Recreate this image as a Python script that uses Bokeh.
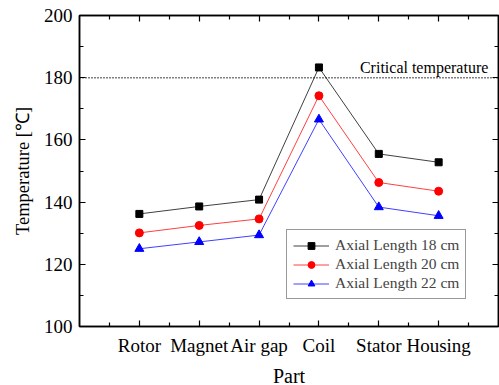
from bokeh.plotting import figure
from bokeh.models import FixedTicker, LinearAxis, Span, Label, Range1d, Legend
from bokeh.embed import file_html
from bokeh.resources import INLINE

parts = ["Rotor", "Magnet", "Air gap", "Coil", "Stator", "Housing"]
pos = [1, 2, 3, 4, 5, 6]
len18 = [136.2, 138.6, 140.8, 183.3, 155.5, 152.8]
len20 = [130.1, 132.5, 134.6, 174.2, 146.3, 143.5]
len22 = [125.0, 127.2, 129.4, 166.6, 138.4, 135.6]
critical = 180

FONT = "Liberation Serif"

p = figure(width=499, height=385, output_backend="svg", toolbar_location=None,
           x_range=Range1d(0, 7), y_range=Range1d(100, 200),
           frame_width=419, frame_height=311,
           min_border_left=79, min_border_right=1, min_border_top=15, min_border_bottom=0)
p.xgrid.visible = False
p.ygrid.visible = False
p.outline_line_color = "black"
p.outline_line_width = 1.5

def style_axis(ax, labels=True):
    ax.axis_line_color = "black"
    ax.axis_line_width = 1.5
    ax.major_tick_in = 6
    ax.major_tick_out = 0
    ax.minor_tick_in = 4
    ax.minor_tick_out = 0
    ax.major_tick_line_width = 1.2
    ax.minor_tick_line_width = 1.2
    ax.major_label_text_font = FONT
    ax.major_label_text_font_size = "19px"
    ax.major_label_text_color = "black"
    ax.axis_label_text_font = FONT
    ax.axis_label_text_font_size = "20px"
    ax.axis_label_text_font_style = "normal"
    ax.axis_label_text_color = "black"
    if not labels:
        ax.major_label_standoff = 0
        ax.major_label_overrides = {t: "" for t in ax.ticker.ticks}

xt = FixedTicker(ticks=pos, minor_ticks=[0.5 + i for i in range(7)])
yt = FixedTicker(ticks=[100, 120, 140, 160, 180, 200], minor_ticks=[110, 130, 150, 170, 190])

p.xaxis.ticker = xt
p.xaxis.major_label_overrides = {k: v for k, v in zip(pos, parts)}
p.xaxis.axis_label = "Part"
p.yaxis.ticker = yt
p.yaxis.axis_label = "Temperature [℃]"
style_axis(p.xaxis[0])
style_axis(p.yaxis[0])
p.yaxis.axis_label_text_font_size = "18.5px"
p.xaxis.major_label_standoff = 8
p.xaxis.axis_label_standoff = 6
p.yaxis.major_label_standoff = 7
p.yaxis.axis_label_standoff = 8

top = LinearAxis(ticker=xt)
style_axis(top, labels=False)
p.add_layout(top, "above")
right = LinearAxis(ticker=yt)
style_axis(right, labels=False)
p.add_layout(right, "right")

p.add_layout(Span(location=critical, dimension="width", line_color="black",
                  line_dash="1 2", line_width=1.5))
p.add_layout(Label(x=6.83, y=critical, text="Critical temperature", text_align="right",
                   text_baseline="bottom", y_offset=2, text_font=FONT, text_font_size="16px",
                   text_color="black"))

series = [(len18, "black", "square", "Axial Length 18 cm", 7),
          (len20, "red", "circle", "Axial Length 20 cm", 8),
          (len22, "blue", "triangle", "Axial Length 22 cm", 9)]
items = []
for vals, col, mk, lab, sz in series:
    r1 = p.line(pos, vals, line_color=col, line_width=1, line_alpha=0.75)
    r2 = p.scatter(pos, vals, marker=mk, size=sz, fill_color=col, line_color=col)
    items.append((lab, [r1, r2]))

leg = Legend(items=items, location=(207, 27))
leg.label_text_font = FONT
leg.label_text_font_size = "15.5px"
leg.label_height = 17
leg.glyph_height = 17
leg.glyph_width = 36
leg.label_standoff = 6
leg.spacing = 1
leg.padding = 6
leg.margin = 0
leg.border_line_color = "#333333"
leg.border_line_width = 1
leg.background_fill_alpha = 1
p.add_layout(leg, "center")

open("out.html", "w").write(file_html(p, INLINE))
